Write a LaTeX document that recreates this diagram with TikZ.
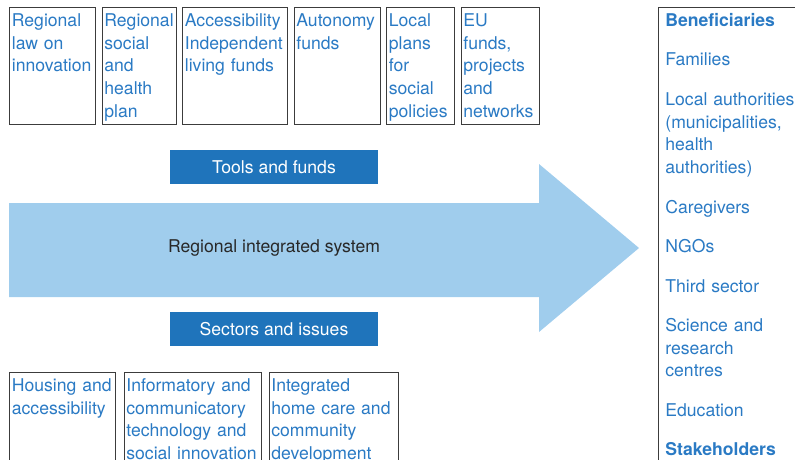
\documentclass[tikz,border=0pt]{standalone}
\usepackage{fontspec}
\setmainfont{TeX Gyre Heros}
\usetikzlibrary{positioning}
\definecolor{textblue}{RGB}{42,122,196}
\definecolor{bandblue}{RGB}{31,116,187}
\definecolor{flowblue}{RGB}{160,205,237}
\definecolor{frame}{RGB}{60,60,60}
\definecolor{systemgray}{RGB}{40,40,40}
\tikzset {
  blue text/.style = {
    font = \fontsize{17.6}{22.7}\selectfont,
    text = textblue,
    align = left
  },
  % framed box of a tool or a sector
  item/.style = {
    blue text,
    draw = frame,
    line width = 0.8pt,
    inner xsep = 2.5pt,
    inner ysep = 3pt,
    text width = #1,
    text height = 16pt,
    text depth = 95pt
  },
  % lower boxes run past the bottom edge
  low item/.style = {
    item = #1,
    text depth = 120pt
  },
  % filled heading band
  band/.style = {
    fill = bandblue,
    text = white,
    font = \fontsize{17.6}{22.7}\selectfont,
    minimum width = 208pt,
    minimum height = 34pt,
    inner sep = 0
  },
  % list of beneficiaries and stakeholders
  actors box/.style = {
    blue text,
    draw = frame,
    line width = 0.8pt,
    inner xsep = 7pt,
    inner ysep = 3pt,
    text width = 200pt,
    text height = 16pt,
    text depth = 470pt
  },
  node distance = 5.5pt
}

\begin{document}
\begin{tikzpicture}[x=1pt,y=-1pt]
    \useasboundingbox (0,0) rectangle (795,459);
    \clip (0,0) rectangle (795,459);

    % tools and funds
    \node[item=81.2pt, anchor=north west] (law) at (9,7) {Regional\\law on\\innovation};
    \node[item=69.2pt] (plan) [right=of law] {Regional\\social\\and\\health\\plan};
    \node[item=100.2pt] (access) [right=of plan] {Accessibility\\Independent\\living funds};
    \node[item=81.2pt] (autonomy) [right=of access] {Autonomy\\funds};
    \node[item=63.2pt] (localplans) [right=of autonomy] {Local\\plans\\for\\social\\policies};
    \node[item=73.2pt] (eufunds) [right=of localplans] {EU\\funds,\\projects\\and\\networks};

    \node[band] (tools) at (274,167) {Tools and funds};

    % the main arrow
    \fill[flowblue] (9,203) -- (539,203) -- (539,164) -- (639,248)
    -- (539,332) -- (539,297) -- (9,297) -- cycle;
    \node[text = systemgray, font = \fontsize{17.6}{22.7}\selectfont] (system) at (274,248) {Regional integrated system};

    \node[band] (sectors) at (274,329) {Sectors and issues};

    % sectors and issues
    \node[low item=101.2pt, anchor=north west] (housing) at (9,372) {Housing and\\accessibility};
    \node[low item=132.2pt] (ict) [right=7.5pt of housing] {Informatory and\\communicatory\\technology and\\social innovation};
    \node[low item=124.2pt] (homecare) [right=7pt of ict] {Integrated\\home care and\\community\\development};

    % beneficiaries and stakeholders
    \node[actors box, anchor=north west] (actors) at (658,7) {\textbf{Beneficiaries}\\[16.8pt]
      Families\\[16.8pt]
      Local authorities\\(municipalities,\\health\\authorities)\\[16.8pt]
      Caregivers\\[16.8pt]
      NGOs\\[16.8pt]
      Third sector\\[16.8pt]
      Science and\\research\\centres\\[16.8pt]
      Education\\[16.8pt]
      \textbf{Stakeholders}};
  \end{tikzpicture}
\end{document}
